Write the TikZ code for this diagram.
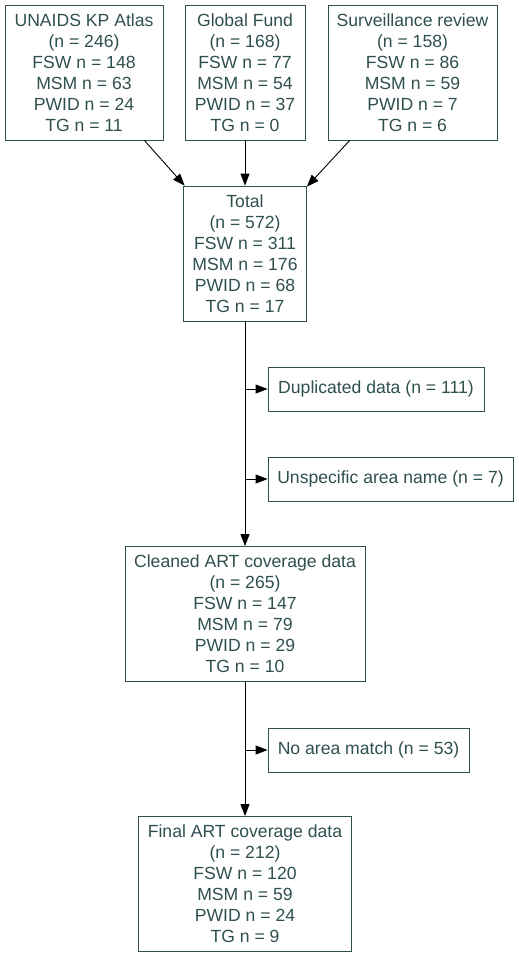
\documentclass[tikz,border=0pt]{standalone}
\usepackage{fontspec}
\setmainfont{Liberation Sans}
\usetikzlibrary{arrows.meta}
\definecolor{slate}{HTML}{2F4F4F}
\tikzset{
  box/.style={draw=slate, line width=0.8pt, text=slate, align=center, inner sep=0pt,
    font=\fontsize{17.6}{21}\selectfont},
  big/.style={box, minimum height=135pt},
  small/.style={box, minimum height=44pt},
  arr/.style={draw=black, line width=0.9pt, -{Triangle[length=12pt,width=9pt]}}
}
\begin{document}
\begin{tikzpicture}[x=1pt,y=-1pt]
\useasboundingbox (0,0) rectangle (519,959);
\node[big, minimum width=158pt] (u) at (84,72.5) {UNAIDS KP Atlas\\(n = 246)\\FSW n = 148\\MSM n = 63\\PWID n = 24\\TG n = 11};
\node[big, minimum width=120pt] (g) at (245,72.5) {Global Fund\\(n = 168)\\FSW n = 77\\MSM n = 54\\PWID n = 37\\TG n = 0};
\node[big, minimum width=169pt] (s) at (412.5,72.5) {Surveillance review\\(n = 158)\\FSW n = 86\\MSM n = 59\\PWID n = 7\\TG n = 6};
\node[big, minimum width=123pt] (t) at (245,253.5) {Total\\(n = 572)\\FSW n = 311\\MSM n = 176\\PWID n = 68\\TG n = 17};
\node[small, minimum width=216pt] (d) at (376,389) {Duplicated data (n = 111)};
\node[small, minimum width=245pt] (un) at (390.5,479) {Unspecific area name (n = 7)};
\node[big, minimum width=240pt] (c) at (245,614) {Cleaned ART coverage data\\(n = 265)\\FSW n = 147\\MSM n = 79\\PWID n = 29\\TG n = 10};
\node[small, minimum width=201pt] (na) at (368.5,750) {No area match (n = 53)};
\node[big, minimum width=213pt] (f) at (245,884) {Final ART coverage data\\(n = 212)\\FSW n = 120\\MSM n = 59\\PWID n = 24\\TG n = 9};
\coordinate (b1) at (245,389);
\coordinate (b2) at (245,479);
\coordinate (b3) at (245,750);
\draw[arr] (u) -- (t);
\draw[arr] (g) -- (t);
\draw[arr] (s) -- (t);
\draw[arr] (t) -- (c);
\draw[arr] (c) -- (f);
\draw[arr] (b1) -- (d.west);
\draw[arr] (b2) -- (un.west);
\draw[arr] (b3) -- (na.west);
\end{tikzpicture}
\end{document}
